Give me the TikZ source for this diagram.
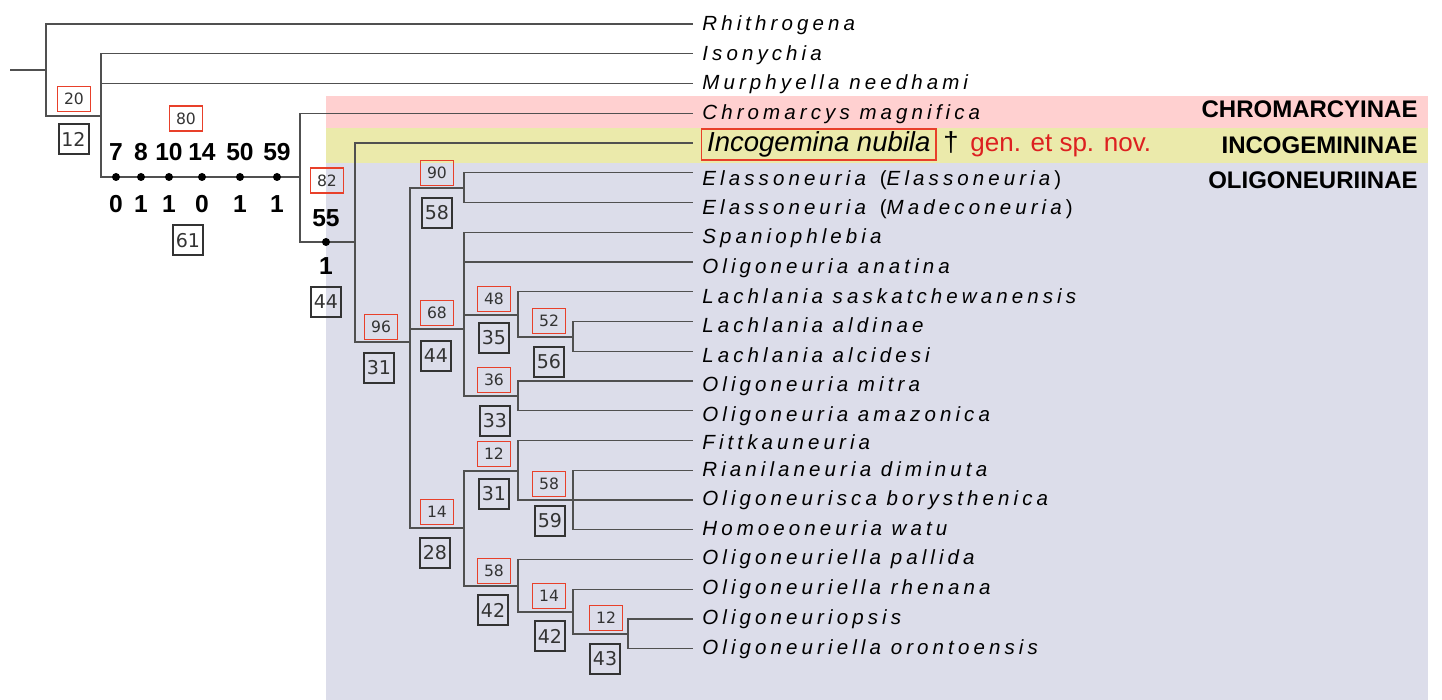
\documentclass[tikz,border=0pt]{standalone}
\usepackage{fontspec}
\setmainfont{Liberation Sans}
\newfontfamily\taxfont[LetterSpace=20]{Liberation Sans}
\newfontfamily\boxfont{DejaVu Sans}
\definecolor{treeline}{HTML}{505050}
\definecolor{bandpink}{HTML}{FFD0D0}
\definecolor{bandyellow}{HTML}{EBEAAB}
\definecolor{bandlav}{HTML}{DCDDEA}
\definecolor{boxred}{HTML}{E8402A}
\definecolor{novred}{HTML}{DD2020}
\definecolor{boxgray}{HTML}{333333}
\begin{document}
\begin{tikzpicture}[x=0.5pt,y=-0.5pt,
 branch/.style={draw=treeline, line width=0.55pt},
 taxon/.style={anchor=base west, inner sep=0, font=\taxfont\itshape\fontsize{10.25pt}{12pt}\selectfont},
 rbox/.style={draw=boxred, line width=0.7pt, minimum width=16.5pt, minimum height=12.5pt, inner sep=0, text=boxgray, font=\boxfont\fontsize{7.8pt}{9pt}\selectfont},
 bbox/.style={draw=boxgray, line width=1pt, minimum width=15pt, minimum height=15pt, inner sep=0, text=boxgray, font=\boxfont\fontsize{9.5pt}{10pt}\selectfont},
 charnum/.style={anchor=base, inner sep=0, font=\bfseries\fontsize{12.3pt}{14pt}\selectfont},
 subfam/.style={anchor=base east, inner sep=0, font=\bfseries\fontsize{12pt}{14pt}\selectfont},
 chardot/.style={circle, fill=black, inner sep=0, minimum size=4pt},
]
\useasboundingbox (0,0) rectangle (1442,700);
% bands
\fill[bandpink] (326,96) rectangle (1428,128);
\fill[bandyellow] (326,128) rectangle (1428,163);
\fill[bandlav] (326,163) rectangle (1428,700);
% tips
\foreach \i in {1,...,22} { \coordinate (t\i) at (693,{24+29.75*(\i-1)}); }
% internal nodes
\coordinate (root0) at (10,70);
\coordinate (R) at (46,70);
\coordinate (A) at (101,116);
\coordinate (B) at (300,177);
\coordinate (C) at (355,242);
\coordinate (D) at (410,342);
\coordinate (E) at (464,188);
\coordinate (F) at (464,329);
\coordinate (L1) at (518,315);
\coordinate (L2) at (573,337);
\coordinate (M) at (518,396);
\coordinate (G) at (464,528);
\coordinate (H1) at (518,471);
\coordinate (H2) at (573,500);
\coordinate (K1) at (518,586);
\coordinate (K2) at (573,612);
\coordinate (K3) at (628,634);
% branches
\draw[branch] (root0) -- (R);
\draw[branch] (R) |- (t1) (R) |- (A);
\draw[branch] (A) |- (t2) (A) |- (t3) (A) |- (B);
\draw[branch] (B) |- (t4) (B) |- (C);
\draw[branch] (C) |- (t5) (C) |- (D);
\draw[branch] (D) |- (E) (D) |- (F) (D) |- (G);
\draw[branch] (E) |- (t6) (E) |- (t7);
\draw[branch] (F) |- (t8) (F) |- (t9) (F) |- (L1) (F) |- (M);
\draw[branch] (L1) |- (t10) (L1) |- (L2);
\draw[branch] (L2) |- (t11) (L2) |- (t12);
\draw[branch] (M) |- (t13) (M) |- (t14);
\draw[branch] (G) |- (H1) (G) |- (K1);
\draw[branch] (H1) |- (t15) (H1) |- (H2);
\draw[branch] (H2) |- (t16) (H2) |- (t17) (H2) |- (t18);
\draw[branch] (K1) |- (t19) (K1) |- (K2);
\draw[branch] (K2) |- (t20) (K2) |- (K3);
\draw[branch] (K3) |- (t21) (K3) |- (t22);
% character states
\foreach \x/\u/\d [count=\k] in {116/7/0,141/8/1,169/10/1,202/14/0,240/50/1,277/59/1} {
  \node[chardot] (cd\k) at (\x,177) {};
  \node[charnum] (cu\k) at (\x,161) {\u};
  \node[charnum] (cl\k) at (\x,213) {\d};
}
\node[chardot] (cd7) at (326,242) {};
\node[charnum] (cu7) at (326,226.5) {55};
\node[charnum] (cl7) at (326,275) {1};
% support boxes
\node[rbox] (r1) at (74,99) {20};
\node[bbox] (b1) at (73.5,139) {12};
\node[rbox] (r2) at (186,118.5) {80};
\node[bbox] (b2) at (188,240.5) {61};
\node[rbox] (r3) at (327,180.5) {82};
\node[bbox] (b3) at (326,302) {44};
\node[rbox] (r4) at (381,327) {96};
\node[bbox] (b4) at (379,368) {31};
\node[rbox] (r5) at (437,173) {90};
\node[bbox] (b5) at (437,213) {58};
\node[rbox] (r6) at (437,313) {68};
\node[bbox] (b6) at (436,356) {44};
\node[rbox] (r7) at (494,299) {48};
\node[bbox] (b7) at (494,338) {35};
\node[rbox] (r8) at (549,321) {52};
\node[bbox] (b8) at (549,362) {56};
\node[rbox] (r9) at (494,380) {36};
\node[bbox] (b9) at (495,421) {33};
\node[rbox] (r10) at (494,454) {12};
\node[bbox] (b10) at (494,494) {31};
\node[rbox] (r11) at (549,484) {58};
\node[bbox] (b11) at (550,521) {59};
\node[rbox] (r12) at (437,512) {14};
\node[bbox] (b12) at (435,553) {28};
\node[rbox] (r13) at (494,571) {58};
\node[bbox] (b13) at (493,610) {42};
\node[rbox] (r14) at (549,596) {14};
\node[bbox] (b14) at (550,636) {42};
\node[rbox] (r15) at (606,618) {12};
\node[bbox] (b15) at (605,659) {43};
% taxa
\node[taxon] (n1) at (702,30.5) {Rhithrogena};
\node[taxon] (n2) at (702,60.5) {Isonychia};
\node[taxon] (n3) at (702,89.5) {Murphyella needhami};
\node[taxon] (n4) at (702,119.5) {Chromarcys magnifica};
\node[draw=boxred, line width=0.7pt, inner xsep=2.75pt, inner ysep=0.75pt, text height=10.5pt, text depth=3.5pt, anchor=west, font=\itshape\fontsize{13.75pt}{16pt}\selectfont] (n5) at (701,144.5) {Incogemina nubila};
\node[anchor=base west, inner sep=0, font=\fontsize{13.75pt}{16pt}\selectfont] (dag) at (943,151.5) {†};
\node[anchor=base west, inner sep=0, text=novred, font=\fontsize{13pt}{16pt}\selectfont] (nov) at (970,151.5) {gen. et sp. nov.};
\node[taxon] (n6) at (702,186) {Elassoneuria \textup{(}Elassoneuria\textup{)}};
\node[taxon] (n7) at (702,215) {Elassoneuria \textup{(}Madeconeuria\textup{)}};
\node[taxon] (n8) at (702,243.5) {Spaniophlebia};
\node[taxon] (n9) at (702,273.5) {Oligoneuria anatina};
\node[taxon] (n10) at (702,303.5) {Lachlania saskatchewanensis};
\node[taxon] (n11) at (702,332.5) {Lachlania aldinae};
\node[taxon] (n12) at (702,362.5) {Lachlania alcidesi};
\node[taxon] (n13) at (702,391.5) {Oligoneuria mitra};
\node[taxon] (n14) at (702,421.5) {Oligoneuria amazonica};
\node[taxon] (n15) at (702,449.5) {Fittkauneuria};
\node[taxon] (n16) at (702,476.5) {Rianilaneuria diminuta};
\node[taxon] (n17) at (702,505.5) {Oligoneurisca borysthenica};
\node[taxon] (n18) at (702,535.5) {Homoeoneuria watu};
\node[taxon] (n19) at (702,564.5) {Oligoneuriella pallida};
\node[taxon] (n20) at (702,594.5) {Oligoneuriella rhenana};
\node[taxon] (n21) at (702,624.5) {Oligoneuriopsis};
\node[taxon] (n22) at (702,654.5) {Oligoneuriella orontoensis};
% subfamilies
\node[subfam] (sf1) at (1418,118) {CHROMARCYINAE};
\node[subfam] (sf2) at (1418,153.5) {INCOGEMININAE};
\node[subfam] (sf3) at (1418,189) {OLIGONEURIINAE};
\end{tikzpicture}
\end{document}
